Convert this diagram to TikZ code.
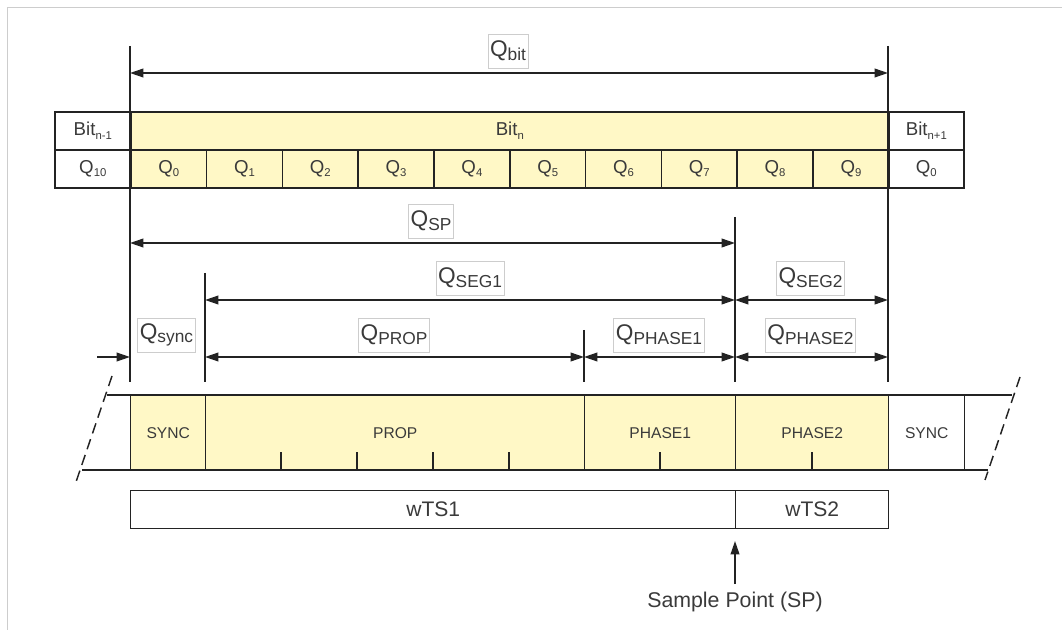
\documentclass[tikz,border=0pt]{standalone}
\usepackage{fontspec}
\setmainfont{Liberation Sans}
\usetikzlibrary{arrows.meta}
\definecolor{yel}{RGB}{255,248,198}
\definecolor{txt}{RGB}{58,58,58}
\definecolor{ln}{RGB}{35,35,35}
\definecolor{frm}{RGB}{205,205,205}
\newcommand\qlab[1]{Q\raisebox{-2.5pt}{\fontsize{13}{13}\selectfont #1}}
\newcommand\cellq[1]{Q\raisebox{-2.5pt}{\fontsize{8.5}{8.5}\selectfont #1}}
\newcommand\bitq[1]{Bit\raisebox{-2.5pt}{\fontsize{8.5}{8.5}\selectfont #1}}
\begin{document}
\begin{tikzpicture}[x=0.75pt,y=-0.75pt,
  tip/.tip={Triangle[length=10pt,width=6.5pt]},
  dim/.style={tip-tip, line width=1.2pt, draw=ln},
  vline/.style={line width=1.3pt, draw=ln},
  lab/.style={draw=frm, fill=white, line width=0.6pt, inner xsep=1.6pt, inner ysep=0pt,
    minimum height=25.5pt, text=txt, font=\fontsize{17}{17}\selectfont, anchor=south},
  cell/.style={draw=ln, line width=1.2pt, minimum width=56.85pt, minimum height=28.5pt,
    inner sep=0pt, anchor=north west, text=txt, font=\fontsize{14}{14}\selectfont},
  seg/.style={draw=ln, line width=1.1pt, minimum height=56.25pt, inner sep=0pt,
    anchor=north west, text=txt, font=\fontsize{11.7}{11.7}\selectfont},
  wts/.style={draw=ln, line width=1.1pt, minimum height=28.5pt, inner sep=0pt,
    anchor=north west, text=txt, font=\fontsize{15.8}{15.8}\selectfont},
  slash/.style={line width=1.1pt, draw=ln, dash pattern=on 8pt off 4.5pt}
]
\useasboundingbox (0,0) rectangle (1062,630);
% frame
\draw[frm, line width=0.8pt] (7.5,630) -- (7.5,7.5) -- (1062,7.5);

% bit rows
\node[cell, minimum width=57pt] (bitp) at (54,111) {\bitq{n-1}};
\node[cell, fill=yel, minimum width=568.5pt] (bitn) at (130,111) {\bitq{n}};
\node[cell, minimum width=56.25pt] (bitnx) at (888,111) {\bitq{n+1}};
\node[cell, minimum width=57pt] (q10) at (54,149) {\cellq{10}};
\foreach \i in {0,...,9} {
  \node[cell, fill=yel] (q\i) at ({130+75.8*\i},149) {\cellq{\i}};
}
\node[cell, minimum width=56.25pt] (qn0) at (888,149) {\cellq{0}};

% vertical reference lines
\coordinate (v1t) at (130,46);  \coordinate (v1b) at (130,382);
\coordinate (v5t) at (888,46);  \coordinate (v5b) at (888,382);
\coordinate (v4t) at (735,217); \coordinate (v4b) at (735,382);
\coordinate (v2t) at (205,273); \coordinate (v2b) at (205,382);
\coordinate (v3t) at (584,330); \coordinate (v3b) at (584,382);
\foreach \v in {1,...,5} { \draw[vline] (v\v t) -- (v\v b); }

% dimension lines
\coordinate (qb1) at (130,73);  \coordinate (qb2) at (888,73);
\coordinate (sp1) at (130,243); \coordinate (sp2) at (735,243);
\coordinate (s11) at (205,300); \coordinate (s12) at (735,300);
\coordinate (s21) at (735,300); \coordinate (s22) at (888,300);
\coordinate (pr1) at (205,357); \coordinate (pr2) at (584,357);
\coordinate (p11) at (584,357); \coordinate (p12) at (735,357);
\coordinate (p21) at (735,357); \coordinate (p22) at (888,357);
\coordinate (sy0) at (97,357);  \coordinate (sy1) at (130,357);
\draw[dim] (qb1) -- (qb2);
\draw[dim] (sp1) -- (sp2);
\draw[dim] (s11) -- (s12);
\draw[dim] (s21) -- (s22);
\draw[dim] (pr1) -- (pr2);
\draw[dim] (p11) -- (p12);
\draw[dim] (p21) -- (p22);
\draw[dim, -tip] (sy0) -- (sy1);

% labels
\node[lab] (lqbit) at (508,68.5) {\qlab{bit}};
\node[lab] (lqsp) at (431,238.5) {\qlab{SP}};
\node[lab] (lqseg1) at (470,295.5) {\qlab{SEG1}};
\node[lab] (lqseg2) at (810.5,295.5) {\qlab{SEG2}};
\node[lab] (lqsync) at (166.5,352.5) {\qlab{sync}};
\node[lab] (lqprop) at (394,352.5) {\qlab{PROP}};
\node[lab] (lqph1) at (659,352.5) {\qlab{PHASE1}};
\node[lab] (lqph2) at (810.5,352.5) {\qlab{PHASE2}};

% segment row
\coordinate (rt0) at (107,395); \coordinate (rt1) at (1012,395);
\coordinate (rb0) at (82,470);  \coordinate (rb1) at (988,470);
\node[seg, fill=yel, minimum width=56.25pt] (sync1) at (130,395) {SYNC};
\node[seg, fill=yel, minimum width=284.25pt] (prop) at (205,395) {PROP};
\node[seg, fill=yel, minimum width=113.25pt] (ph1) at (584,395) {PHASE1};
\node[seg, fill=yel, minimum width=114.75pt] (ph2) at (735,395) {PHASE2};
\node[seg, minimum width=57pt] (sync2) at (888,395) {SYNC};
\draw[line width=1.1pt, draw=ln] (rt0) -- (rt1);
\draw[line width=1.1pt, draw=ln] (rb0) -- (rb1);
\foreach \x in {281,357,433,509,660,812} {
  \draw[line width=1.1pt, draw=ln] (\x,452) -- (\x,470);
}
\coordinate (sl1a) at (112,376); \coordinate (sl1b) at (76,482);
\coordinate (sl2a) at (1020,377); \coordinate (sl2b) at (985,480);
\draw[slash] (sl1a) -- (sl1b);
\draw[slash] (sl2a) -- (sl2b);

% wTS boxes
\node[wts, minimum width=453.75pt] (wts1) at (130,490) {wTS1};
\node[wts, minimum width=114.75pt] (wts2) at (735,490) {wTS2};

% sample point
\node[text=txt, font=\fontsize{16}{16}\selectfont] (spt) at (735,602) {Sample Point (SP)};
\coordinate (spBase) at (735,584);
\coordinate (spTip) at (735,541);
\draw[line width=1.2pt, draw=ln, -tip] (spBase) -- (spTip);
\end{tikzpicture}
\end{document}
